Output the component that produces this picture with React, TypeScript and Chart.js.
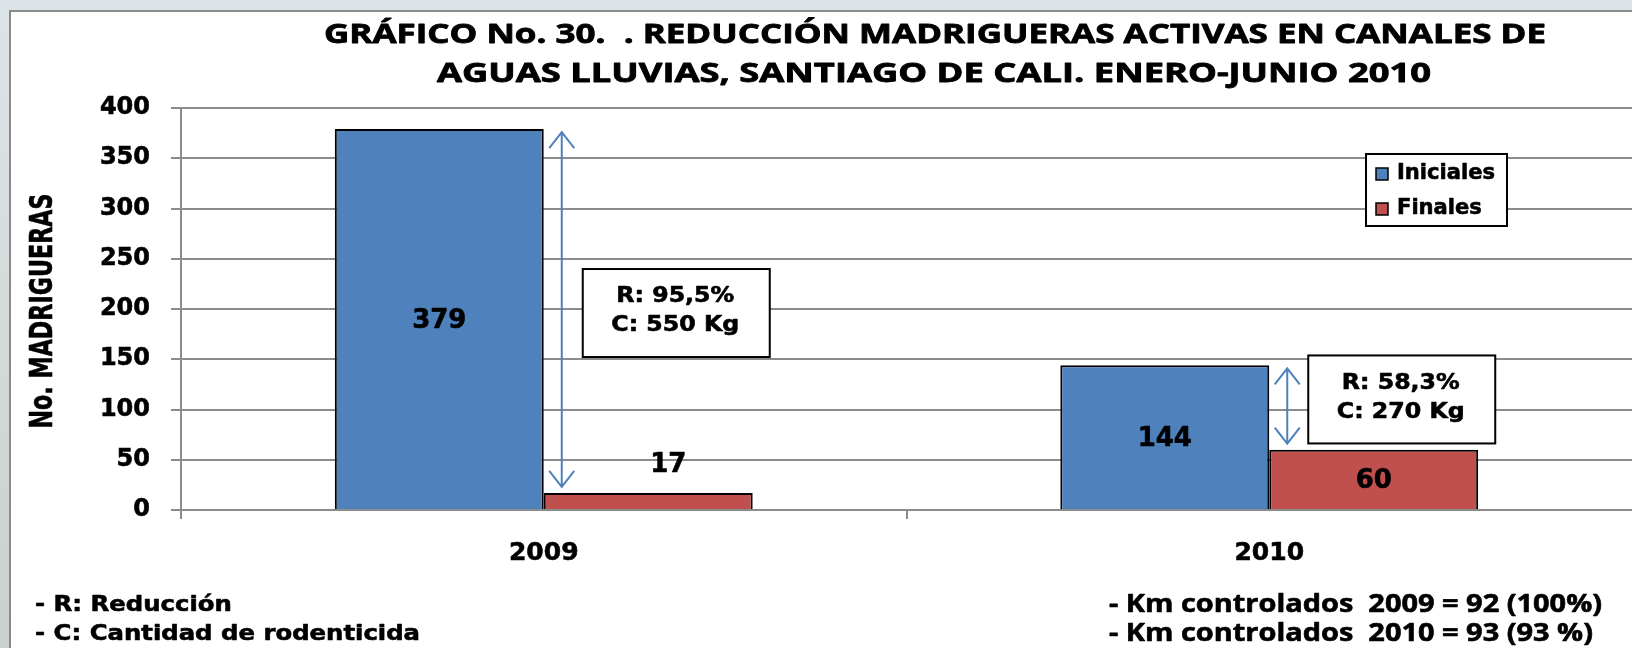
import React, { useEffect, useRef } from "react";
import { Chart, registerables } from "chart.js";

Chart.register(...registerables);

// ---------- data ----------
const categories = ["2009", "2010"];
const seriesNames = ["Iniciales", "Finales"];
const iniciales = [379, 144];
const finales = [17, 60];
const yMin = 0;
const yMax = 400;
const yStep = 50;
const noteLines = [
  ["R: 95,5%", "C: 550 Kg"],
  ["R: 58,3%", "C: 270 Kg"],
];
const titleLines = [
  "GRÁFICO No. 30.  . REDUCCIÓN MADRIGUERAS ACTIVAS EN CANALES DE",
  "AGUAS LLUVIAS, SANTIAGO DE CALI. ENERO-JUNIO 2010",
];
const yAxisTitle = "No. MADRIGUERAS";
const footLeft = ["- R: Reducción", "- C: Cantidad de rodenticida"];
const footRight = ["- Km controlados  2009 = 92 (100%)", "- Km controlados  2010 = 93 (93 %)"];

// ---------- layout / style ----------
const W = 1632;
const H = 648;
const BLUE = "#4F81BD";
const RED = "#C0504D";
const GRID = "#8c8c8c";
const noteBoxCenterValue = [196, 110];
const BOLD = "DejaVu Sans";

function stretchText(
  ctx: CanvasRenderingContext2D,
  text: string,
  x: number,
  y: number,
  sx: number,
  align: CanvasTextAlign,
  stroke = 0.6
) {
  ctx.save();
  ctx.translate(x, y);
  ctx.scale(sx, 1);
  ctx.textAlign = align;
  ctx.textBaseline = "middle";
  ctx.fillText(text, 0, 0);
  if (stroke > 0) {
    ctx.strokeStyle = ctx.fillStyle as string;
    ctx.lineWidth = stroke;
    ctx.lineJoin = "round";
    ctx.strokeText(text, 0, 0);
  }
  ctx.restore();
}

function drawArrow(ctx: CanvasRenderingContext2D, x: number, y1: number, y2: number) {
  const hw = 12.5;
  const hl = 16;
  ctx.save();
  ctx.strokeStyle = BLUE;
  ctx.lineWidth = 2;
  ctx.beginPath();
  ctx.moveTo(x, y1);
  ctx.lineTo(x, y2);
  ctx.moveTo(x - hw, y1 + hl);
  ctx.lineTo(x, y1);
  ctx.lineTo(x + hw, y1 + hl);
  ctx.moveTo(x - hw, y2 - hl);
  ctx.lineTo(x, y2);
  ctx.lineTo(x + hw, y2 - hl);
  ctx.stroke();
  ctx.restore();
}

const backgroundPlugin = {
  id: "bgFrame",
  beforeDraw(chart: any) {
    const ctx = chart.ctx as CanvasRenderingContext2D;
    ctx.save();
    const g = ctx.createLinearGradient(0, 0, 0, H);
    g.addColorStop(0, "#dde4e8");
    g.addColorStop(1, "#c9d1cc");
    ctx.fillStyle = g;
    ctx.fillRect(0, 0, W, H);
    ctx.fillStyle = "#ffffff";
    ctx.fillRect(10, 11, W + 20, H + 20);
    ctx.strokeStyle = "#8a8a8a";
    ctx.lineWidth = 2;
    ctx.strokeRect(10, 11, W + 20, H + 20);
    ctx.restore();
  },
};

const overlayPlugin = {
  id: "overlay",
  afterDraw(chart: any) {
    const ctx = chart.ctx as CanvasRenderingContext2D;
    const yScale = chart.scales.y;
    ctx.save();
    ctx.fillStyle = "#000";

    // Title
    ctx.font = "bold 27px 'Open Sans'";
    const t1 = 1222 / ctx.measureText(titleLines[0]).width;
    const t2 = 994 / ctx.measureText(titleLines[1]).width;
    stretchText(ctx, titleLines[0], 935, 35, t1, "center", 0.8);
    stretchText(ctx, titleLines[1], 934, 74, t2, "center", 0.8);

    // Y axis title
    ctx.font = "bold 32px 'Liberation Sans Narrow', 'DejaVu Sans Condensed', sans-serif";
    const yw = ctx.measureText(yAxisTitle).width;
    ctx.save();
    ctx.translate(44, 311);
    ctx.rotate(-Math.PI / 2);
    stretchText(ctx, yAxisTitle, 0, 0, 235 / yw, "center", 0.6);
    ctx.restore();

    // Data labels
    ctx.font = `bold 26px '${BOLD}'`;
    chart.data.datasets.forEach((ds: any, di: number) => {
      const meta = chart.getDatasetMeta(di);
      meta.data.forEach((el: any, i: number) => {
        const v = ds.data[i];
        const h = el.base - el.y;
        if (h < 40) {
          stretchText(ctx, String(v), el.x + 20, el.y - 28, 1, "center");
        } else {
          stretchText(ctx, String(v), el.x, (el.y + el.base) / 2 + 2, 1, "center");
        }
      });
    });

    // Reduction arrows and note boxes
    const metaIni = chart.getDatasetMeta(0);
    ctx.font = `bold 21px '${BOLD}'`;
    const nsx = 118 / ctx.measureText(noteLines[0][0]).width;
    categories.forEach((_, i) => {
      const bar = metaIni.data[i];
      const ax = bar.x + bar.width / 2 + 18;
      const yTop = yScale.getPixelForValue(iniciales[i]) + 3;
      const yBot = yScale.getPixelForValue(finales[i]) - 6;
      drawArrow(ctx, ax, yTop, yBot);
      const bx = ax + 21;
      const bw = 187;
      const bh = 88;
      const cy = yScale.getPixelForValue(noteBoxCenterValue[i]);
      ctx.save();
      ctx.fillStyle = "#fff";
      ctx.fillRect(bx, cy - bh / 2, bw, bh);
      ctx.strokeStyle = "#000";
      ctx.lineWidth = 2;
      ctx.strokeRect(bx, cy - bh / 2, bw, bh);
      ctx.restore();
      ctx.fillStyle = "#000";
      stretchText(ctx, noteLines[i][0], bx + bw / 2 - 1, cy - 16, nsx, "center");
      stretchText(ctx, noteLines[i][1], bx + bw / 2 - 1, cy + 13, nsx, "center");
    });

    // Legend
    const lx = 1366, ly = 154, lw = 141, lh = 72;
    ctx.save();
    ctx.fillStyle = "#fff";
    ctx.fillRect(lx, ly, lw, lh);
    ctx.strokeStyle = "#000";
    ctx.lineWidth = 2;
    ctx.strokeRect(lx, ly, lw, lh);
    ctx.restore();
    ctx.font = `bold 21px '${BOLD}'`;
    const lsx = 98 / ctx.measureText(seriesNames[0]).width;
    const rowY = [174, 209];
    chart.data.datasets.forEach((ds: any, di: number) => {
      const y = rowY[di];
      ctx.save();
      ctx.fillStyle = ds.backgroundColor;
      ctx.fillRect(1376, y - 6, 12, 12);
      ctx.strokeStyle = "#000";
      ctx.lineWidth = 1.5;
      ctx.strokeRect(1376, y - 6, 12, 12);
      ctx.restore();
      ctx.fillStyle = "#000";
      stretchText(ctx, ds.label, 1397, y, lsx, "left", 0.6);
    });

    // Footer notes
    ctx.font = `bold 22px '${BOLD}'`;
    const fsx = 385 / ctx.measureText(footLeft[1]).width;
    stretchText(ctx, footLeft[0], 35, 605, fsx, "left");
    stretchText(ctx, footLeft[1], 35, 634, fsx, "left");
    ctx.font = "bold 25px 'Open Sans'";
    const rsx = 493 / ctx.measureText(footRight[0]).width;
    stretchText(ctx, footRight[0], 1109, 605, rsx, "left");
    stretchText(ctx, footRight[1], 1109, 634, rsx, "left");

    ctx.restore();
  },
};

export default function App() {
  const ref = useRef<HTMLCanvasElement | null>(null);
  useEffect(() => {
    if (!ref.current) return;
    const chart = new Chart(ref.current, {
      type: "bar",
      data: {
        labels: categories,
        datasets: [
          {
            label: seriesNames[0],
            data: iniciales,
            backgroundColor: BLUE,
            borderColor: "#000",
            borderWidth: 2,
            categoryPercentage: 0.576,
            barPercentage: 1,
          },
          {
            label: seriesNames[1],
            data: finales,
            backgroundColor: RED,
            borderColor: "#000",
            borderWidth: 2,
            categoryPercentage: 0.576,
            barPercentage: 1,
          },
        ],
      },
      options: {
        responsive: false,
        animation: false,
        events: [],
        layout: { padding: { top: 108, left: 0, right: 0, bottom: 0 } },
        plugins: {
          legend: { display: false },
          title: { display: false },
          tooltip: { enabled: false },
        },
        scales: {
          x: {
            grid: {
              display: true,
              drawOnChartArea: false,
              drawTicks: true,
              tickLength: 9,
              color: (c: any) => (c.type === "tick" ? GRID : "rgba(0,0,0,0)"),
              lineWidth: 2,
              offset: true,
            },
            border: { display: true, color: GRID, width: 2 },
            ticks: {
              color: "#000",
              font: { family: BOLD, weight: "bold", size: 25 },
              padding: 19,
              textStrokeColor: "#000",
              textStrokeWidth: 0.6,
            },
            afterFit: (s: any) => {
              s.height = H - 510;
            },
          },
          y: {
            min: yMin,
            max: yMax,
            ticks: {
              stepSize: yStep,
              color: "#000",
              font: { family: BOLD, weight: "bold", size: 24 },
              padding: 21,
              textStrokeColor: "#000",
              textStrokeWidth: 0.6,
            },
            grid: { color: GRID, lineWidth: 2, tickLength: 10 },
            border: { display: true, color: GRID, width: 2 },
            afterFit: (s: any) => {
              s.width = 181;
            },
          },
        },
      } as any,
      plugins: [backgroundPlugin, overlayPlugin],
    });
    return () => chart.destroy();
  }, []);
  return (
    <div style={{ position: "absolute", left: 0, top: 0, width: W, height: H }}>
      <canvas ref={ref} width={W} height={H} style={{ display: "block", width: W, height: H }} />
    </div>
  );
}
